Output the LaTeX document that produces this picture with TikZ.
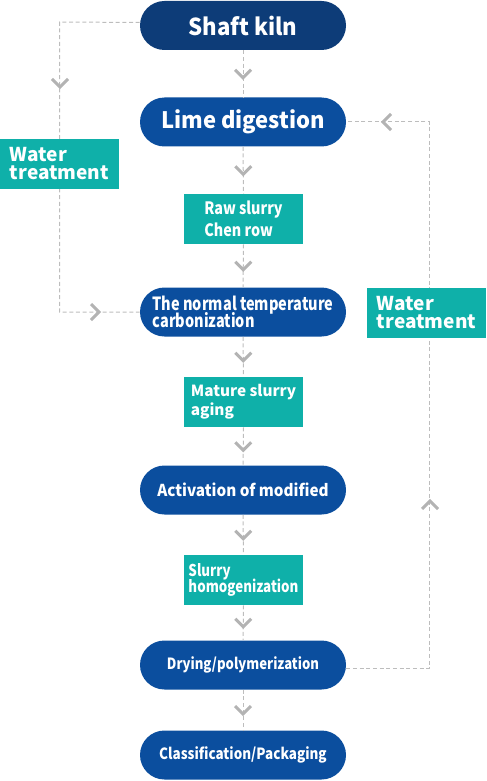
\documentclass[tikz,border=0pt]{standalone}
\usepackage{fontspec}
\setmainfont{Noto Sans CJK SC}
\usetikzlibrary{shapes.misc,calc}
\definecolor{navyA}{HTML}{0D3C78}
\definecolor{navyB}{HTML}{0B4E9E}
\definecolor{tealA}{HTML}{0FB0A9}
\definecolor{dashgray}{HTML}{BDBDBD}
\definecolor{chevgray}{HTML}{B3B3B3}
\newcommand{\fs}[3]{\fontsize{#1pt}{#2pt}\selectfont\bfseries\addfontfeatures{FakeStretch=#3}\lineskiplimit=-50pt\relax}
\tikzset{
  pill/.style={rounded rectangle, fill=navyB, text=white, minimum width=154.5pt, minimum height=36.75pt, inner sep=0pt, align=center},
  tealbox/.style={rectangle, fill=tealA, text=white, minimum width=89.25pt, minimum height=37.5pt, inner sep=0pt, align=left},
  flow/.style={draw=dashgray, line width=0.75pt, dash pattern=on 3pt off 2pt},
  chev/.pic={\draw[chevgray, line width=2.2pt, line cap=butt, line join=miter] (-6pt,3pt) -- (0pt,-3pt) -- (6pt,3pt);}
}
\begin{document}
\begin{tikzpicture}[x=0.75pt,y=-0.75pt]
\useasboundingbox (0,0) rectangle (486,781);
% nodes
\node[pill, fill=navyA, font=\fs{17.5}{20}{0.95}] (kiln) at (243,25.5) {Shaft kiln};
\node[pill, font=\fs{17}{18}{0.97}] (lime) at (243,122) {Lime digestion};
\node[tealbox, font=\fs{12.8}{16.5}{0.84}] (raw) at (243.5,219) {Raw slurry\\Chen row};
\node[pill, align=left, font=\fs{13.6}{12.6}{0.8}] (carb) at (243,312) {The normal temperature\\carbonization};
\node[tealbox, font=\fs{11.5}{14.25}{1}] (mature) at (243.5,402) {Mature slurry\\aging};
\node[pill, font=\fs{12.3}{14}{0.93}] (act) at (243,490) {Activation of modified};
\node[tealbox, font=\fs{12.2}{11.8}{0.82}] (homog) at (243.5,580) {Slurry\\homogenization};
\node[pill, font=\fs{11.6}{13}{0.85}] (dry) at (243,665) {Drying/polymerization};
\node[pill, font=\fs{11.6}{13}{0.87}] (cls) at (243,755) {Classification/Packaging};
% connectors
\coordinate (L) at (59.5,22);
\coordinate (R) at (429.5,668);
\draw[flow] ([yshift=2.25pt]kiln.west) -- (L) |- (carb.west);
\draw[flow] ([yshift=-2.25pt]dry.east) -- (R) |- (lime.east);
\foreach \a/\b in {kiln/lime,lime/raw,raw/carb,carb/mature,mature/act,act/homog,homog/dry,dry/cls}{
  \draw[flow] (\a.south) -- (\b.north);
  \pic at ($(\a.south)!0.5!(\b.north)$) {chev};
}
\pic at (60,83) {chev};
\pic[rotate=90] at (95,312) {chev};
\pic[rotate=180] at (430,505) {chev};
\pic[rotate=-90] at (387,122) {chev};
% water treatment boxes (over the lines)
\node[tealbox, font=\fs{14.3}{13.5}{1}] (wl) at (59.5,164) {Water\\treatment};
\node[tealbox, font=\fs{14.3}{13.5}{1}] (wr) at (426.5,313) {Water\\treatment};
\end{tikzpicture}
\end{document}
